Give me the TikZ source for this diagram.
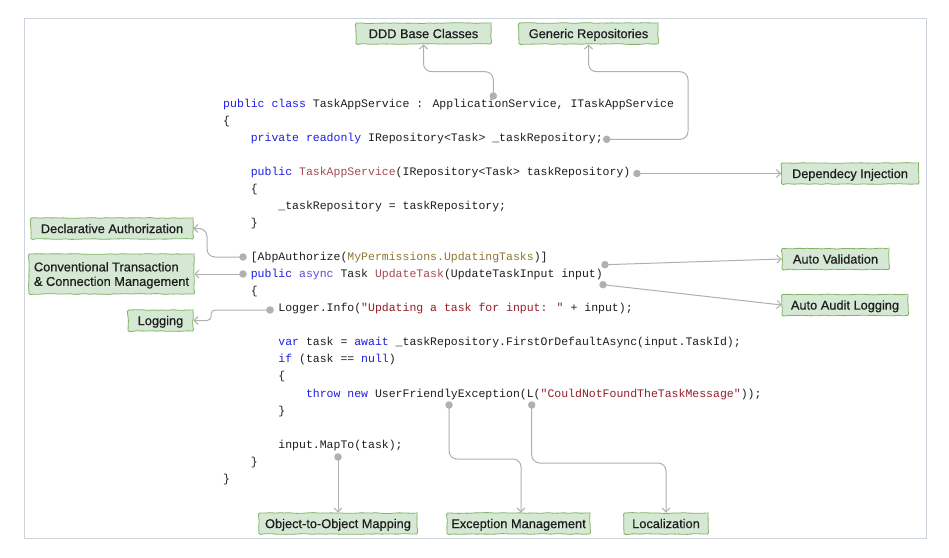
\documentclass[tikz,border=0pt]{standalone}
\usepackage{fontspec}
\usetikzlibrary{arrows.meta,decorations.pathmorphing}
\newfontfamily\codefont{Liberation Mono}
\newfontfamily\boxfont[FakeBold=0.6]{Liberation Sans}
\definecolor{kwblue}{RGB}{30,30,230}
\definecolor{asviolet}{RGB}{100,70,215}
\definecolor{fnred}{RGB}{165,75,85}
\definecolor{strred}{RGB}{150,30,40}
\definecolor{attrol}{RGB}{140,120,50}
\definecolor{codetext}{RGB}{30,30,30}
\definecolor{boxfill}{RGB}{213,232,212}
\definecolor{boxline}{RGB}{130,179,102}
\definecolor{conncol}{RGB}{176,176,176}
\definecolor{framecol}{RGB}{204,211,219}
\newcommand\cKw[1]{\textcolor{kwblue}{#1}}
\newcommand\cAs[1]{\textcolor{asviolet}{#1}}
\newcommand\cFn[1]{\textcolor{fnred}{#1}}
\newcommand\cStr[1]{\textcolor{strred}{#1}}
\newcommand\cAttr[1]{\textcolor{attrol}{#1}}
\begin{document}
\begin{tikzpicture}[x=1pt,y=-1pt,
  code/.style={anchor=base west, inner sep=0pt, font=\codefont\fontsize{11.5}{14}\selectfont, text=codetext},
  box/.style={draw=boxline, fill=boxfill, line width=0.8pt, inner sep=0pt, minimum height=21pt,
    text height=9.2pt, text depth=0pt,
    font=\boxfont\fontsize{12.8}{14.5}\selectfont, text=codetext,
    decorate, decoration={random steps, segment length=4pt, amplitude=0.45pt}, rounded corners=1.5pt},
  conn/.style={draw=conncol, line width=1pt, -{Straight Barb[length=4pt,width=8pt]}, rounded corners=8pt},
  dot/.style={circle, fill=conncol, inner sep=0pt, minimum size=7.5pt}]
\useasboundingbox (0,0) rectangle (949,557);
\fill[white] (0,0) rectangle (949,557);
\draw[framecol, line width=1pt] (24,18.5) rectangle (926,538);

% code
\node[code] (l0) at (223,107) {\cKw{public class} TaskAppService : ApplicationService, ITaskAppService};
\node[code] (l1) at (223,124) {\{};
\node[code] (l2) at (250.6,141) {\cKw{private readonly} IRepository<Task> \_taskRepository;};
\node[code] (l4) at (250.6,175) {\cKw{public} \cFn{TaskAppService}(IRepository<Task> taskRepository)};
\node[code] (l5) at (250.6,192) {\{};
\node[code] (l6) at (278.2,209) {\_taskRepository = taskRepository;};
\node[code] (l7) at (250.6,226) {\}};
\node[code] (l9) at (250.6,260.5) {[AbpAuthorize(\cAttr{MyPermissions.UpdatingTasks})]};
\node[code] (l10) at (250.6,277.5) {\cKw{public} \cAs{async} Task \cFn{UpdateTask}(UpdateTaskInput input)};
\node[code] (l11) at (250.6,294.5) {\{};
\node[code] (l12) at (278.2,311.5) {Logger.Info(\cStr{"Updating a task for input: "} + input);};
\node[code] (l14) at (278.2,345.5) {\cKw{var} task = \cKw{await} \_taskRepository.FirstOrDefaultAsync(input.TaskId);};
\node[code] (l15) at (278.2,362.5) {\cKw{if} (task == \cKw{null})};
\node[code] (l16) at (278.2,379.5) {\{};
\node[code] (l17) at (305.8,397) {\cKw{throw new} UserFriendlyException(L(\cStr{"CouldNotFoundTheTaskMessage"}));};
\node[code] (l18) at (278.2,414) {\}};
\node[code] (l20) at (278.2,448) {input.MapTo(task);};
\node[code] (l21) at (250.6,465) {\}};
\node[code] (l22) at (223,482) {\}};

% boxes
\node[box, minimum width=135pt] (ddd) at (423.5,33.5) {DDD Base Classes};
\node[box, minimum width=139pt] (gen) at (588.5,33.5) {Generic Repositories};
\node[box, minimum width=137pt] (dep) at (850,173.5) {Dependecy Injection};
\node[box, minimum width=162pt] (dec) at (112,228.5) {Declarative Authorization};
\node[box, minimum width=165pt, minimum height=40pt, text height=, text depth=0pt, align=left] (conv) at (111.5,274) {Conventional Transaction\\\& Connection Management};
\node[box, minimum width=65pt] (log) at (160.5,320.5) {Logging};
\node[box, minimum width=107pt] (aval) at (835.5,259) {Auto Validation};
\node[box, minimum width=126pt] (aaud) at (845,305) {Auto Audit Logging};
\node[box, minimum width=158pt] (o2o) at (338,523.5) {Object-to-Object Mapping};
\node[box, minimum width=143pt] (exc) at (518.5,523.5) {Exception Management};
\node[box, minimum width=84pt] (loc) at (666,523.5) {Localization};

% dots
\node[dot] (dddd) at (493.3,96) {};
\node[dot] (dgen) at (606.7,139.3) {};
\node[dot] (ddep) at (637,173.5) {};
\node[dot] (ddec) at (243,257) {};
\node[dot] (dconv) at (243,274) {};
\node[dot] (dlog) at (270,310) {};
\node[dot] (daval) at (605,264.7) {};
\node[dot] (daaud) at (603,284.7) {};
\node[dot] (do2o) at (338,457) {};
\node[dot] (dexc) at (449,405) {};
\node[dot] (dloc) at (531.7,405) {};

% connectors
\draw[conn] (dddd.center) -- (493.3,71.7) -- (423.5,71.7) -- (ddd.south);
\draw[conn] (dgen.center) -- (688,139.3) -- (688,71.7) -- (588.5,71.7) -- (gen.south);
\draw[conn] (ddep.center) -- (dep.west);
\draw[conn] (ddec.center) -- (207,257) -- (207,228.5) -- (dec.east);
\draw[conn] (dconv.center) -- (conv.east);
\draw[conn, rounded corners=4pt] (dlog.center) -- (211,310) -- (211,320.5) -- (log.east);
\draw[conn] (daval.center) -- (aval.west);
\draw[conn] (daaud.center) -- (aaud.west);
\draw[conn] (do2o.center) -- (o2o.north);
\draw[conn] (dexc.center) -- (449,459) -| ([xshift=2.5pt]exc.north);
\draw[conn] (dloc.center) -- (531.7,463) -| (loc.north);
\end{tikzpicture}
\end{document}
